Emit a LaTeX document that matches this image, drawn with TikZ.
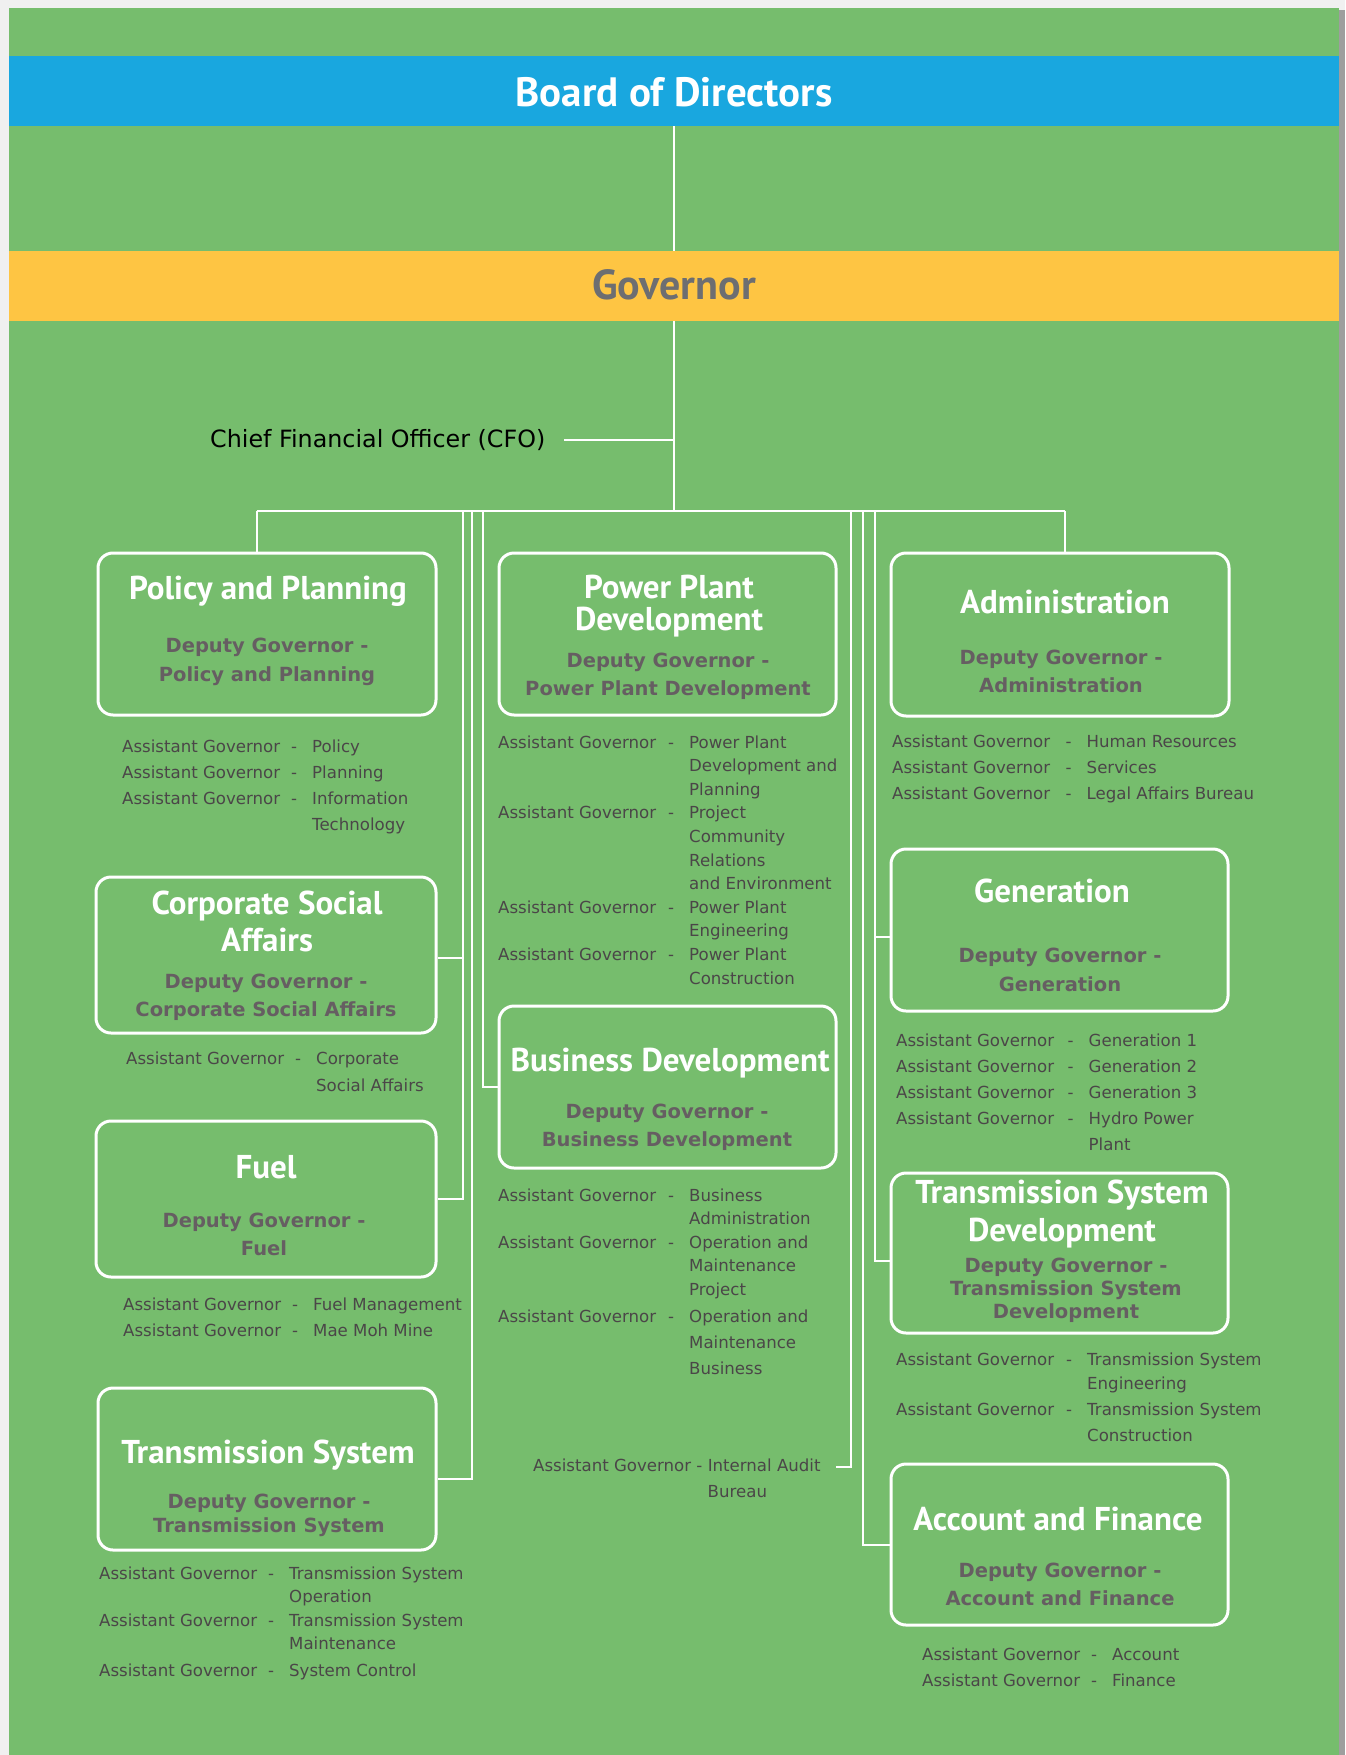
\documentclass[tikz,border=0pt]{standalone}
\usepackage{fontspec}
\setmainfont{DejaVu Sans}
\newfontfamily\titlefont{PT Sans}
\usetikzlibrary{calc}
\definecolor{bggreen}{HTML}{76BD6D}
\definecolor{bandblue}{HTML}{19A7DF}
\definecolor{bandyellow}{HTML}{FEC543}
\definecolor{govgray}{HTML}{6D6E71}
\definecolor{depgray}{HTML}{665E62}
\definecolor{asgray}{HTML}{4B4648}
\newlength\agA \setlength\agA{169pt}
\newlength\agB \setlength\agB{21pt}
\newcommand\agrow[1]{\makebox[\agA][l]{Assistant Governor}\makebox[\agB][l]{-}#1}
\newcommand\agcont[1]{\hspace*{\agA}\hspace*{\agB}#1}
\newcommand\aglist[2][169pt]{\setlength\agA{#1}\begin{tabular}[t]{@{}l@{}}#2\end{tabular}}
\newcommand\mlc[1]{\begin{tabular}[t]{@{}c@{}}#1\end{tabular}}
\tikzset{
  band/.style={inner sep=0pt, draw=none, minimum width=1330pt, minimum height=70pt},
  bandtext/.style={inner sep=0pt, anchor=base, font=\titlefont\bfseries\fontsize{#1}{44}\selectfont},
  orgbox/.style={draw=white, line width=3pt, rounded corners=15pt, inner sep=0pt},
  titletext/.style={inner sep=0pt, anchor=base, text=white, font=\titlefont\bfseries\fontsize{33}{#1}\selectfont},
  titletext/.default=31,
  deptext/.style={inner sep=0pt, anchor=base, text=depgray, font=\bfseries\fontsize{19.5}{#1}\selectfont},
  deptext/.default=28.5,
  agtext/.style={inner sep=0pt, anchor=base west, text=asgray, font=\fontsize{16.6}{#1}\selectfont},
  agtext/.default=26,
  cfotext/.style={inner sep=0pt, anchor=base west, text=black, font=\fontsize{23.8}{28}\selectfont},
  conn/.style={draw=white, line width=2pt}
}
\begin{document}
\begin{tikzpicture}[x=1pt,y=-1pt]
\useasboundingbox (0,0) rectangle (1345,1755);
% page and shadow
\fill[black!6] (0,0) rectangle (1345,1755);
\fill[black!38] (1339,10) rectangle (1345,1755);
\fill[bggreen] (9,8) rectangle (1339,1755);

% bands
\node[band, fill=bandblue] (board) at (674,91) {};
\node[bandtext=41, text=white] (boardT) at (674,107) {Board of Directors};
\node[band, fill=bandyellow] (gov) at (674,286) {};
\node[bandtext=42, text=govgray] (govT) at (674,299) {Governor};

% CFO
\node[cfotext] (cfo) at (210,447) {Chief Financial Officer (CFO)};

% boxes
\node[orgbox, minimum width=338pt, minimum height=162pt] (pp)   at (267,634) {};
\node[orgbox, minimum width=337pt, minimum height=162pt] (ppd)  at (667.5,634) {};
\node[orgbox, minimum width=338pt, minimum height=163pt] (adm)  at (1060,634.5) {};
\node[orgbox, minimum width=340pt, minimum height=156pt] (csa)  at (266,955) {};
\node[orgbox, minimum width=340pt, minimum height=156pt] (fuel) at (266,1199) {};
\node[orgbox, minimum width=337pt, minimum height=162pt] (bd)   at (667.5,1087) {};
\node[orgbox, minimum width=337pt, minimum height=162pt] (gen)  at (1059.5,930) {};
\node[orgbox, minimum width=337pt, minimum height=160pt] (tsd)  at (1059.5,1253) {};
\node[orgbox, minimum width=337pt, minimum height=161pt] (af)   at (1059.5,1544.5) {};
\node[orgbox, minimum width=338pt, minimum height=162pt] (ts)   at (267,1469) {};

% titles
\node[titletext] (ppT)   at (268,599)  {Policy and Planning};
\node[titletext=31] (ppdT) at (669,598) {\mlc{Power Plant\\Development}};
\node[titletext] (admT)  at (1065,613) {Administration};
\node[titletext] (genT)  at (1052,902) {Generation};
\node[titletext=38] (tsdT) at (1062,1203) {\mlc{Transmission System\\Development}};
\node[titletext] (afT)   at (1058,1530) {Account and Finance};
\node[titletext=37] (csaT) at (267,914) {\mlc{Corporate Social\\Affairs}};
\node[titletext] (fuelT) at (266,1178) {Fuel};
\node[titletext] (bdT)   at (670,1071) {Business Development};
\node[titletext] (tsT)   at (268,1463) {Transmission System};

% deputy governors
\node[deptext=29]   (ppD)   at (267,652)  {\mlc{Deputy Governor -\\Policy and Planning}};
\node[deptext=28.5] (ppdD)  at (668,667)  {\mlc{Deputy Governor -\\Power Plant Development}};
\node[deptext=28]   (admD)  at (1061,664) {\mlc{Deputy Governor -\\Administration}};
\node[deptext=29]   (genD)  at (1060,962) {\mlc{Deputy Governor -\\Generation}};
\node[deptext=23]   (tsdD)  at (1066,1272) {\mlc{Deputy Governor -\\Transmission System\\Development}};
\node[deptext=28]   (afD)   at (1060,1577) {\mlc{Deputy Governor -\\Account and Finance}};
\node[deptext=28]   (csaD)  at (266,988)  {\mlc{Deputy Governor -\\Corporate Social Affairs}};
\node[deptext=28]   (fuelD) at (264,1227) {\mlc{Deputy Governor -\\Fuel}};
\node[deptext=28]   (bdD)   at (667,1118) {\mlc{Deputy Governor -\\Business Development}};
\node[deptext=24]   (tsD)   at (269,1508) {\mlc{Deputy Governor -\\Transmission System}};

% assistant governors
\node[agtext=26] (ppL) at (122,752) {\aglist{\agrow{Policy}\\ \agrow{Planning}\\ \agrow{Information}\\ \agcont{Technology}}};
\node[agtext=23.6] (ppdL) at (498,748) {\aglist[170pt]{\agrow{Power Plant}\\ \agcont{Development and}\\ \agcont{Planning}\\ \agrow{Project}\\ \agcont{Community}\\ \agcont{Relations}\\ \agcont{and Environment}\\ \agrow{Power Plant}\\ \agcont{Engineering}\\ \agrow{Power Plant}\\ \agcont{Construction}}};
\node[agtext=26] (admL) at (892,747) {\aglist[173.5pt]{\agrow{Human Resources}\\ \agrow{Services}\\ \agrow{Legal Affairs Bureau}}};
\node[agtext=26] (genL) at (896,1046) {\aglist[171.5pt]{\agrow{Generation 1}\\ \agrow{Generation 2}\\ \agrow{Generation 3}\\ \agrow{Hydro Power}\\ \agcont{Plant}}};
\node[agtext=24] (tsdL) at (896,1365) {\aglist[170pt]{\agrow{Transmission System}\\ \agcont{Engineering}\\[2pt] \agrow{Transmission System}\\[2pt] \agcont{Construction}}};
\node[agtext=26] (afL) at (922,1660) {\aglist{\agrow{Account}\\ \agrow{Finance}}};
\node[agtext=27] (csaL) at (126,1064) {\aglist{\agrow{Corporate}\\ \agcont{Social Affairs}}};
\node[agtext=26] (fuelL) at (123,1310) {\aglist{\agrow{Fuel Management}\\ \agrow{Mae Moh Mine}}};
\node[agtext=23.5] (bdL) at (498,1201) {\aglist[170pt]{\agrow{Business}\\ \agcont{Administration}\\ \agrow{Operation and}\\ \agcont{Maintenance}\\ \agcont{Project}\\[3.5pt] \agrow{Operation and}\\[2.5pt] \agcont{Maintenance}\\[2.5pt] \agcont{Business}}};
\node[agtext=23.5] (tsL) at (99,1579) {\aglist{\agrow{Transmission System}\\ \agcont{Operation}\\ \agrow{Transmission System}\\ \agcont{Maintenance}\\[3pt] \agrow{System Control}}};
\node[agtext=26] (audit) at (533,1471) {\begin{tabular}[t]{@{}l@{}l@{}}\mbox{Assistant Governor - }&Internal Audit\\ &Bureau\end{tabular}};

% connectors
\coordinate (busL) at (257,511);
\coordinate (busR) at (1065,511);
\coordinate (v1) at (463,511);
\coordinate (v2) at (472,511);
\coordinate (v3) at (483,511);
\coordinate (v4) at (851,511);
\coordinate (v5) at (863,511);
\coordinate (v6) at (875,511);
\coordinate (cfoL) at (564,440);
\coordinate (auditEnd) at (836,1467);

\draw[conn] (board.south) -- (gov.north);
\draw[conn] (gov.south) -- (gov.south |- busL);
\draw[conn] (cfoL) -- (cfoL -| gov.south);
\draw[conn] (busL) -- (busR);
\draw[conn] (busL) -- (busL |- pp.north);
\draw[conn] (busR) -- (busR |- adm.north);
\draw[conn] (v1) |- (fuel.east);
\draw[conn] ([yshift=-3pt]csa.east -| v1) -- ([yshift=-3pt]csa.east);
\draw[conn] (v2) |- ([yshift=-10pt]ts.east);
\draw[conn] (v3) |- (bd.west);
\draw[conn] (v4) |- (auditEnd);
\draw[conn] (v5) |- (af.west);
\draw[conn] (v6) |- ([yshift=-8pt]tsd.west);
\draw[conn] ([yshift=-7pt]gen.west -| v6) -- ([yshift=-7pt]gen.west);
\end{tikzpicture}
\end{document}
